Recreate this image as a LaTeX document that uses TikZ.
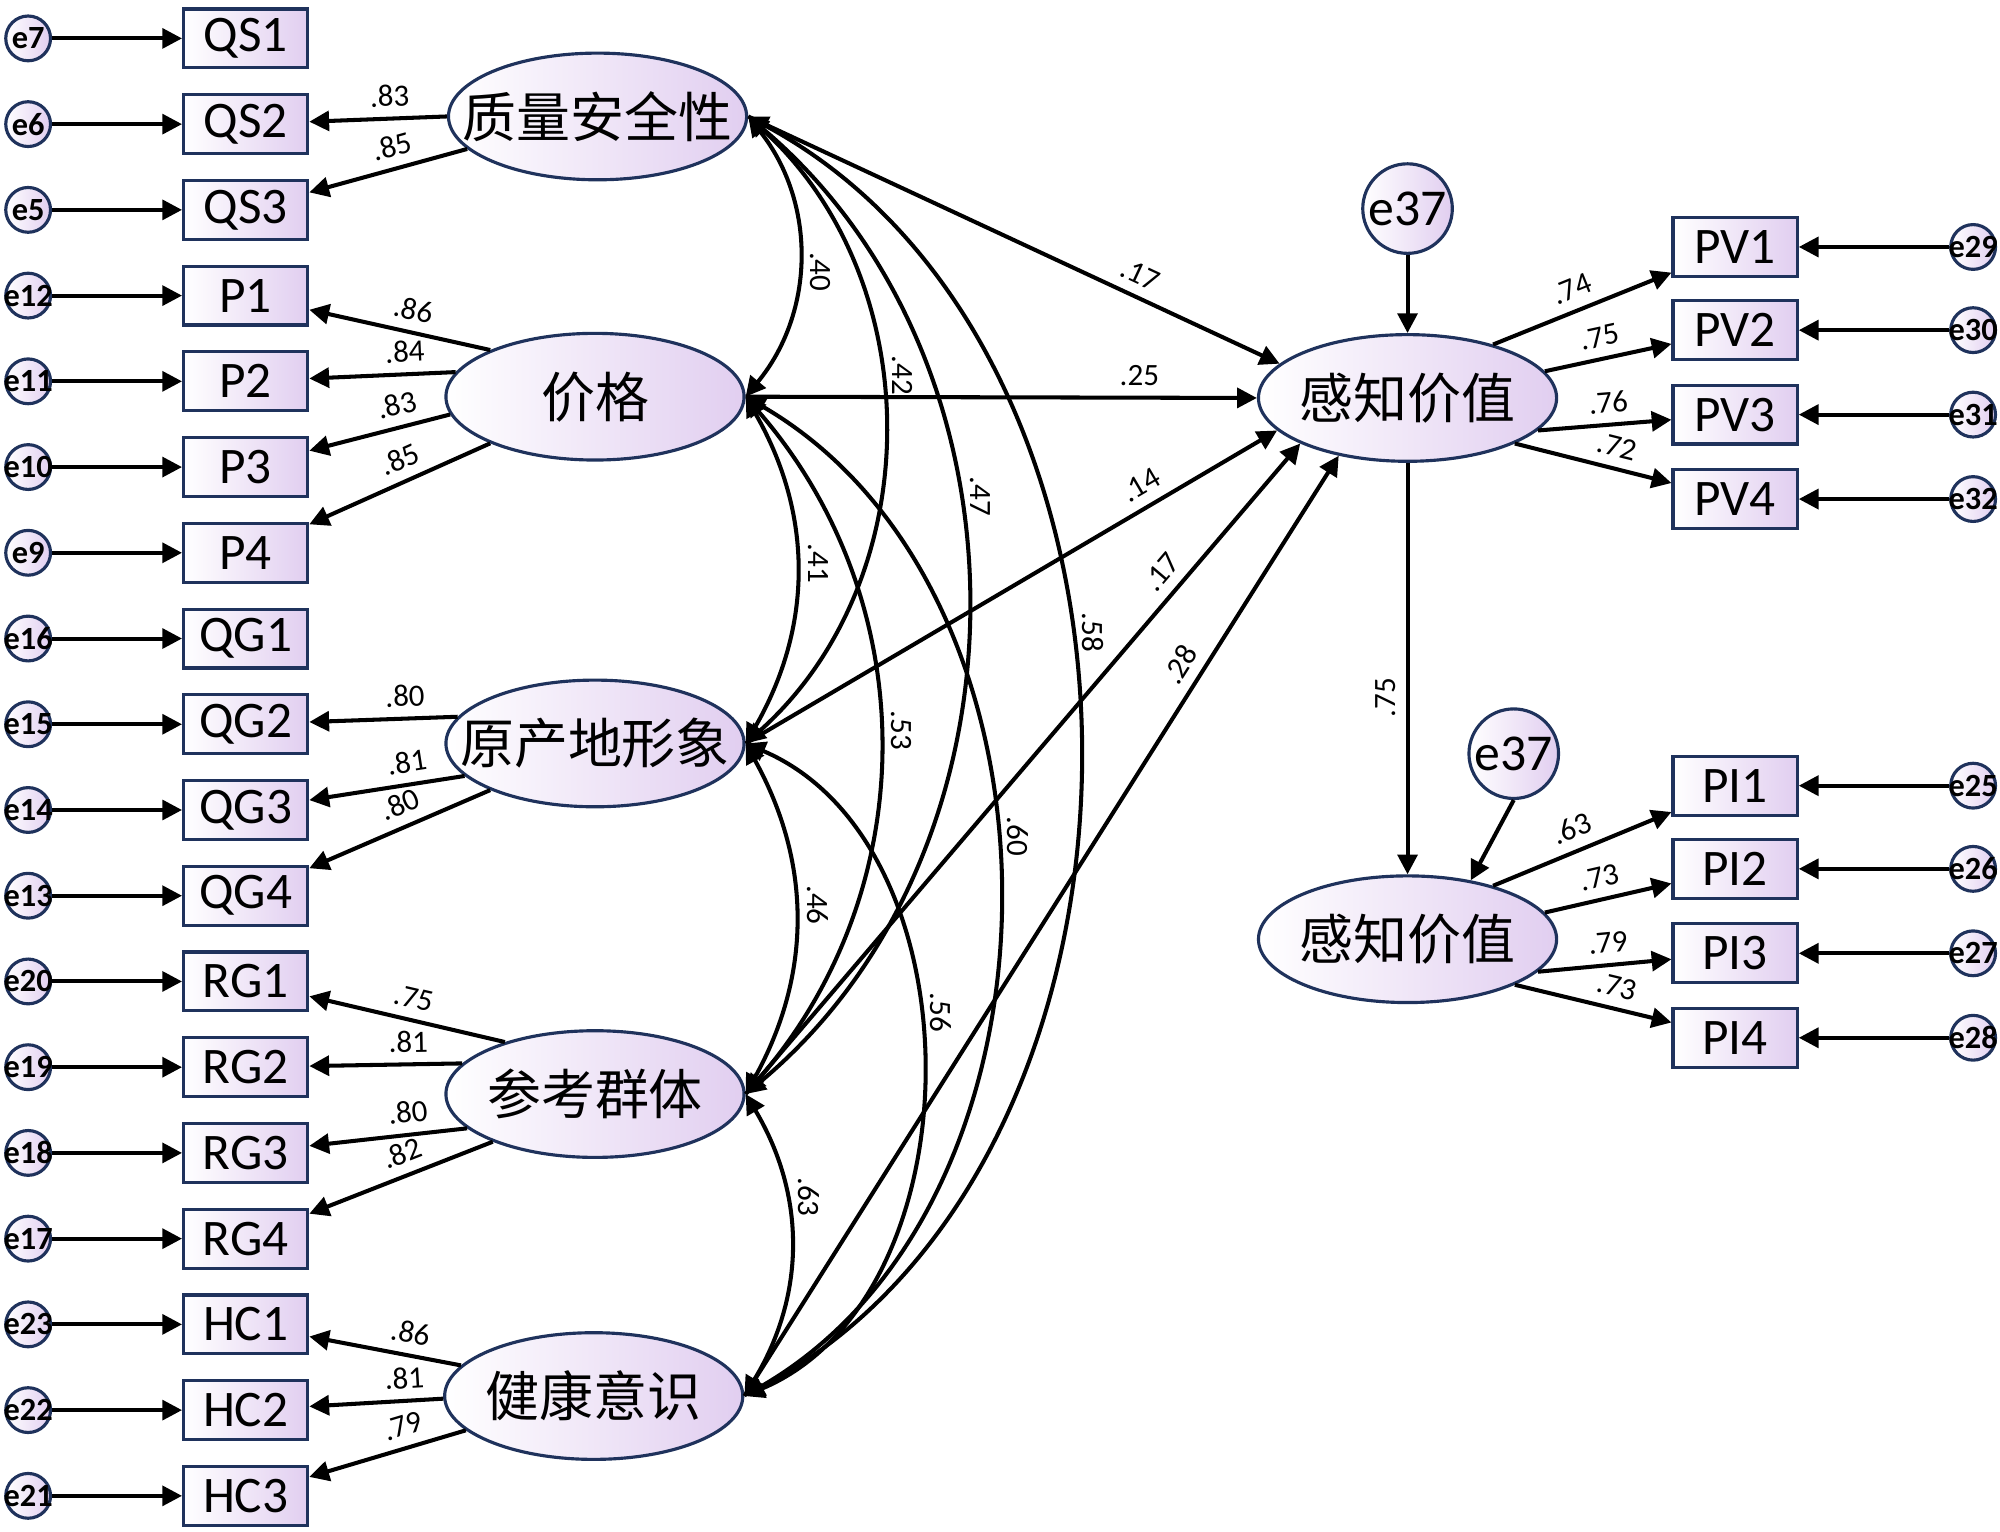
\documentclass[tikz,border=0pt]{standalone}
\usepackage{fontspec}
\setmainfont{Carlito}
\newfontfamily\cjk{Noto Sans CJK SC}
\usetikzlibrary{arrows.meta, shapes.geometric}
\definecolor{semnavy}{RGB}{31,50,92}
\definecolor{semlilac}{RGB}{225,206,240}
\newcommand{\nowidth}[1]{\makebox[0pt]{#1}}
\tikzset{
    obsbox/.style={rectangle, draw=semnavy, line width=0.7pt, left color=white, right color=semlilac, minimum width=0.97cm, minimum height=0.46cm, inner sep=0pt, font=\fontsize{11.4}{12}\selectfont},
    latent/.style={ellipse, draw=semnavy, line width=0.7pt, left color=white, right color=semlilac, minimum width=2.33cm, minimum height=0.99cm, inner sep=0pt, font=\cjk\fontsize{12}{14}\selectfont},
    errc/.style={circle, draw=semnavy, line width=0.7pt, left color=white, right color=semlilac, minimum size=0.35cm, inner sep=0pt, font=\bfseries\fontsize{7.2}{8}\selectfont},
    bigerr/.style={circle, draw=semnavy, line width=0.7pt, left color=white, right color=semlilac, minimum size=0.70cm, inner sep=0pt, font=\fontsize{11.5}{12}\selectfont},
    regpath/.style={-{Triangle[length=4.4pt,width=4.4pt]}, line width=0.9pt},
    covar/.style={{Triangle[length=4.4pt,width=4.4pt]}-{Triangle[length=4.4pt,width=4.4pt]}, line width=0.9pt},
    coef/.style={font=\fontsize{6.9}{7}\selectfont, inner sep=2.2pt},
}
\begin{document}
\begin{tikzpicture}
    \useasboundingbox (0,0) rectangle (15.63,-11.97);
    % left indicators with their errors
    \foreach \obs/\err/\y in {QS1/e7/0.30, QS2/e6/0.97, QS3/e5/1.64, P1/e12/2.31, P2/e11/2.98, P3/e10/3.65, P4/e9/4.32, QG1/e16/4.99, QG2/e15/5.66, QG3/e14/6.33, QG4/e13/7.00, RG1/e20/7.67, RG2/e19/8.34, RG3/e18/9.01, RG4/e17/9.68, HC1/e23/10.35, HC2/e22/11.02, HC3/e21/11.69} {
        \node[obsbox] (\obs) at (1.92,-\y) {\obs};
        \node[errc] (\err) at (0.22,-\y) {\nowidth{\err}};
        \draw[regpath] (\err) -- (\obs);
    }
    % latent factors
    \node[latent] (QS) at (4.67,-0.91) {\nowidth{质量安全性}};
    \node[latent] (PR) at (4.65,-3.10) {\nowidth{价格}};
    \node[latent] (QG) at (4.65,-5.81) {\nowidth{原产地形象}};
    \node[latent] (RG) at (4.65,-8.55) {\nowidth{参考群体}};
    \node[latent] (HC) at (4.64,-10.91) {\nowidth{健康意识}};
    \node[latent] (PVal) at (11.00,-3.11) {\nowidth{感知价值}};
    \node[latent] (PInt) at (11.00,-7.34) {\nowidth{感知价值}};
    \node[bigerr] (e37a) at (11.00,-1.63) {\nowidth{e37}};
    \node[bigerr] (e37b) at (11.83,-5.89) {\nowidth{e37}};
    % loadings
    \foreach \lat/\ang/\obs/\val/\p in {QS/180/QS2/.83/0.41, QS/194/QS3/.85/0.44, PR/156/P1/.86/0.45, PR/170/P2/.84/0.34, PR/187/P3/.83/0.34, PR/204/P4/.85/0.45, QG/169/QG2/.80/0.35, QG/194/QG3/.81/0.35, QG/204/QG4/.80/0.45, RG/150/RG1/.75/0.49, RG/167/RG2/.81/0.35, RG/195/RG3/.80/0.36, RG/205/RG4/.82/0.45, HC/167/HC1/.86/0.36, HC/181/HC2/.81/0.28, HC/195/HC3/.79/0.36}
        \draw[regpath] (\lat.\ang) -- (\obs) node[coef, pos=\p, sloped, above] {\val};
    % covariances
    \foreach \a/\b/\bnd/\val/\p in {QS/PR/39/.40/0.55, QS/QG/48/.42/0.42, QS/RG/50/.47/0.40, QS/HC/62/.58/0.42, PR/QG/30/.41/0.48, PR/RG/41/.53/0.48, PR/HC/60/.60/0.45, QG/RG/29/.46/0.46, QG/HC/67/.56/0.43, RG/HC/31/.63/0.34}
        \draw[covar] (\a.east) to[bend left=\bnd] node[coef, pos=\p, rotate=-90, anchor=south] {\val} (\b.east);
    % structural paths
    \foreach \lat/\ang/\val/\p in {QS/165/.17/0.72, PR/180/.25/0.77, QG/194/.14/0.765, RG/203/.17/0.78, HC/220/.28/0.765}
        \draw[regpath] (\lat.east) -- (PVal.\ang) node[coef, pos=\p, sloped, above] {\val};
    \draw[regpath] (e37a) -- (PVal);
    \draw[regpath] (PVal) -- (PInt) node[coef, pos=0.57, rotate=90, anchor=south] {.75};
    \draw[regpath] (e37b.south) -- (PInt.43);
    % right indicators with their errors
    \foreach \obs/\err/\y in {PV1/e29/1.93, PV2/e30/2.58, PV3/e31/3.24, PV4/e32/3.90, PI1/e25/6.14, PI2/e26/6.79, PI3/e27/7.45, PI4/e28/8.11} {
        \node[obsbox] (\obs) at (13.56,-\y) {\obs};
        \node[errc] (\err) at (15.42,-\y) {\nowidth{\err}};
        \draw[regpath] (\err) -- (\obs);
    }
    \foreach \lat/\ang/\obs/\val/\p in {PVal/32/PV1/.74/0.49, PVal/11/PV2/.75/0.47, PVal/346/PV3/.76/0.54, PVal/337/PV4/.72/0.62, PInt/32/PI1/.63/0.49, PInt/11/PI2/.73/0.47, PInt/346/PI3/.79/0.54, PInt/337/PI4/.73/0.62}
        \draw[regpath] (\lat.\ang) -- (\obs) node[coef, pos=\p, sloped, above] {\val};
\end{tikzpicture}
\end{document}
